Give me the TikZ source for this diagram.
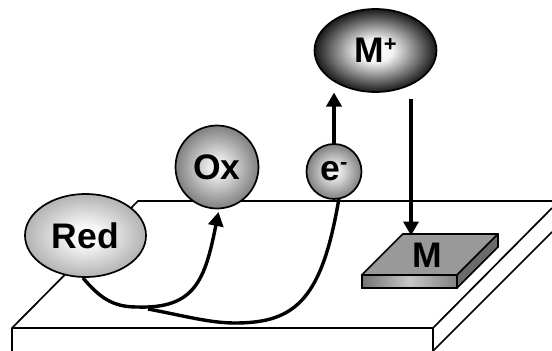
\documentclass[tikz,border=0pt]{standalone}
\usepackage{fontspec}
\setmainfont{Liberation Sans}
\usetikzlibrary{shapes.geometric,arrows.meta}
\pgfdeclareradialshading{softglow}{\pgfpoint{0bp}{0bp}}{color(0bp)=(white); color(6bp)=(white!97!black); color(25bp)=(black!30); color(50bp)=(black!30)}
\pgfdeclareradialshading{midglow}{\pgfpoint{0bp}{0bp}}{color(0bp)=(white!97!black); color(5bp)=(white!92!black); color(25bp)=(black!50); color(50bp)=(black!50)}
\pgfdeclareradialshading{darkglow}{\pgfpoint{0bp}{0bp}}{color(0bp)=(white); color(7bp)=(white!95!black); color(25bp)=(black!90); color(50bp)=(black!90)}
\tikzset{
  edge/.style={draw=black,line width=1.7pt,line join=miter},
  blob/.style={shape=ellipse,draw=black,line width=1.7pt,inner sep=0pt,outer sep=0pt,font=\fontsize{35.5}{35.5}\selectfont\bfseries},
  softblob/.style={blob,shading=softglow},
  midblob/.style={blob,shading=midglow},
  darkblob/.style={blob,shading=darkglow},
  flow/.style={draw=black,line width=3.4pt,-{Triangle[width=15pt,length=14pt]}},
  plain/.style={draw=black,line width=3.4pt},
  lab/.style={font=\fontsize{35.5}{35.5}\selectfont\bfseries,inner sep=0pt}
}
\newcommand{\upmark}[1]{\raisebox{11pt}{\fontsize{22}{22}\selectfont\bfseries #1}}
\begin{document}
\begin{tikzpicture}[x=1pt,y=-1pt]
\useasboundingbox (0,0) rectangle (552,351);
% table
\draw[edge] (12,351) -- (12,328) -- (138,201) -- (552,201);
\draw[edge] (12,328) -- (433,328) -- (433,351);
\draw[edge] (433,328) -- (552,208);
\draw[edge] (433,351) -- (552,232);
% metal block
\path[fill=black!40,draw=black,line width=1.7pt,line join=round] (402.7,234) -- (498,234) -- (457,275) -- (361.7,275) -- cycle;
\path[fill=black!58,draw=black,line width=1.7pt,line join=round] (457,275) -- (498,234) -- (498,247) -- (457,288) -- cycle;
\path[left color=black!55,right color=black!50,middle color=black!22,draw=black,line width=1.7pt] (361.7,275) rectangle (457,288);
\node[lab] (m) at (427,255.5) {M};
% species
\node[softblob,minimum width=121pt,minimum height=83pt] (red) at (85.5,235.5) {Red};
\node[midblob,minimum width=83pt,minimum height=83pt] (ox) at (217,167) {Ox};
\node[midblob,minimum width=55pt,minimum height=55pt] (el) at (334,171.5) {e\upmark{-}};
\node[darkblob,minimum width=122pt,minimum height=83pt] (mp) at (375.5,50.5) {M\upmark{+}};
% free ends
\coordinate (oxtip) at (218.5,212);
\coordinate (join) at (148,309);
\coordinate (mptip) at (334,92.5);
\coordinate (mtip) at (411,235.5);
\coordinate (mpfoot) at (411,99);
\coordinate (redfoot) at (83,278);
% connectors
\draw[flow] (redfoot) .. controls (100,298) and (113,307) .. (137,307) .. controls (195,309) and (205,280) .. (oxtip);
\draw[plain] (join) .. controls (185,316) and (210,323) .. (235,323) .. controls (295,323) and (322,300) .. (339,198);
\draw[flow] (334,145) -- (mptip);
\draw[flow] (mpfoot) -- (mtip);
\end{tikzpicture}
\end{document}
